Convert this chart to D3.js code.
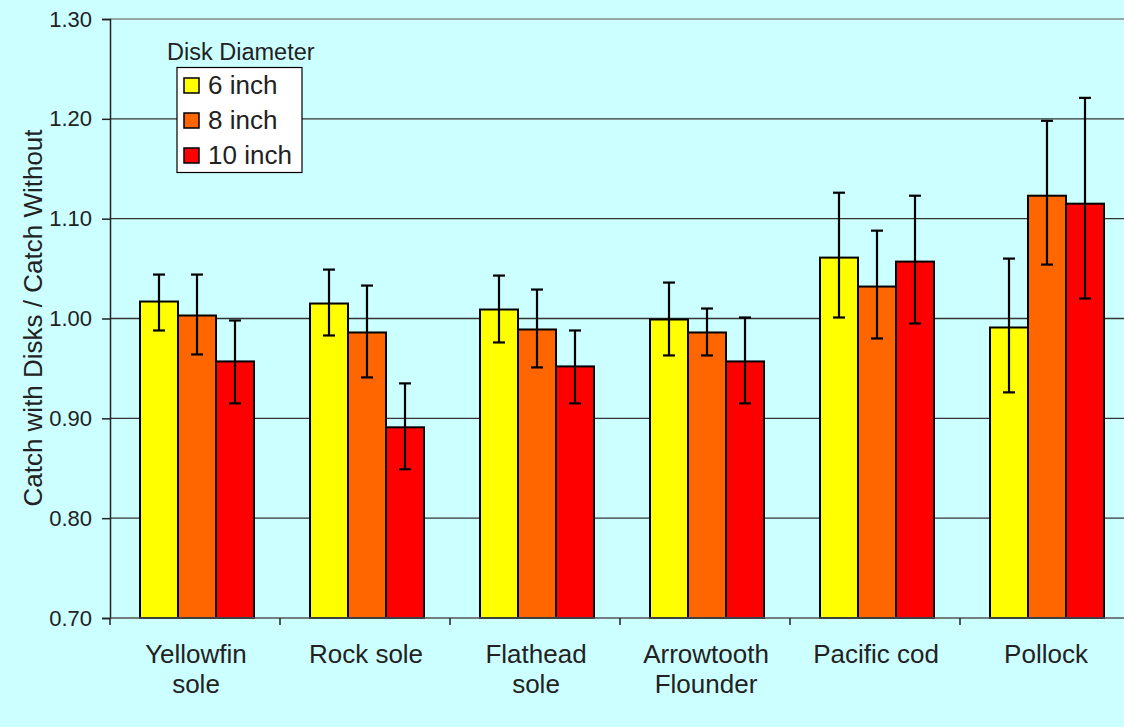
<!DOCTYPE html>
<html><head><meta charset="utf-8">
<script src="https://cdn.jsdelivr.net/npm/d3@7"></script>
<style>body{margin:0;background:#ccffff;}svg{display:block;font-family:"Liberation Sans",Arial,sans-serif;}</style>
</head><body>
<svg id="c" width="1124" height="727"></svg>
<script>
const categories = [["Yellowfin","sole"],["Rock sole"],["Flathead","sole"],["Arrowtooth","Flounder"],["Pacific cod"],["Pollock"]];
const seriesNames = ["6 inch","8 inch","10 inch"];
const seriesColors = ["#ffff00","#ff6600","#ff0000"];
const yTicks = [0.70,0.80,0.90,1.00,1.10,1.20,1.30];
const values6  = [1.017,1.015,1.009,0.999,1.061,0.991];
const values8  = [1.003,0.986,0.989,0.986,1.032,1.123];
const values10 = [0.957,0.891,0.952,0.957,1.057,1.115];
const errHi6  = [1.044,1.049,1.043,1.036,1.126,1.060];
const errLo6  = [0.988,0.983,0.976,0.963,1.001,0.926];
const errHi8  = [1.044,1.033,1.029,1.010,1.088,1.198];
const errLo8  = [0.964,0.941,0.951,0.963,0.980,1.054];
const errHi10 = [0.998,0.935,0.988,1.001,1.123,1.221];
const errLo10 = [0.915,0.849,0.915,0.915,0.995,1.020];

const vals=[values6,values8,values10], his=[errHi6,errHi8,errHi10], los=[errLo6,errLo8,errLo10];
const svg=d3.select("#c");
const L=110, T=19, B=618, W=1020;
const x=d3.scaleBand().domain(d3.range(categories.length)).range([L,L+W]).padding(0);
const y=d3.scaleLinear().domain([0.70,1.30]).range([B,T]);
const inner=d3.scaleBand().domain(d3.range(3)).range([30,144]).padding(0);

// gridlines
svg.append("g").selectAll("line").data(yTicks.slice(1,-1)).join("line")
 .attr("x1",L).attr("x2",L+W).attr("y1",d=>y(d)).attr("y2",d=>y(d))
 .attr("stroke","#333").attr("stroke-width",1.3);
svg.append("line").attr("x1",L).attr("x2",L+W).attr("y1",y(1.30)).attr("y2",y(1.30)).attr("stroke","#888").attr("stroke-width",1.5);

// bars
for(let s=0;s<3;s++){
  svg.append("g").selectAll("rect").data(vals[s]).join("rect")
   .attr("x",(d,i)=>x(i)+inner(s)).attr("width",inner.bandwidth())
   .attr("y",d=>y(d)).attr("height",d=>B-y(d))
   .attr("fill",seriesColors[s]).attr("stroke","#000").attr("stroke-width",2);
}
// error bars
for(let s=0;s<3;s++){
  const g=svg.append("g").attr("stroke","#000").attr("stroke-width",2.2);
  vals[s].forEach((d,i)=>{
    const cx=x(i)+inner(s)+inner.bandwidth()/2;
    g.append("line").attr("x1",cx).attr("x2",cx).attr("y1",y(his[s][i])).attr("y2",y(los[s][i]));
    g.append("line").attr("x1",cx-6).attr("x2",cx+6).attr("y1",y(his[s][i])).attr("y2",y(his[s][i]));
    g.append("line").attr("x1",cx-6).attr("x2",cx+6).attr("y1",y(los[s][i])).attr("y2",y(los[s][i]));
  });
}

// y axis
const ya=svg.append("g").attr("transform",`translate(${L},0)`)
 .call(d3.axisLeft(y).tickValues(yTicks).tickFormat(d3.format(".2f")).tickSize(8).tickPadding(10));
ya.select(".domain").attr("stroke","#222").attr("stroke-width",1.5);
ya.selectAll(".tick line").attr("stroke","#222").attr("stroke-width",1.5);
ya.selectAll("text").attr("font-size",22).attr("fill","#222").attr("font-family","Liberation Sans, Arial, sans-serif");

// x axis line and ticks
svg.append("line").attr("x1",L).attr("x2",L+W).attr("y1",B).attr("y2",B).attr("stroke","#555").attr("stroke-width",1.5);
svg.append("g").selectAll("line").data(d3.range(categories.length+1)).join("line")
 .attr("x1",d=>L+d*x.bandwidth()).attr("x2",d=>L+d*x.bandwidth()).attr("y1",B).attr("y2",B+7)
 .attr("stroke","#222").attr("stroke-width",1.5);
const xl=svg.append("g").selectAll("text").data(categories).join("text")
 .attr("x",(d,i)=>x(i)+x.bandwidth()/2+1).attr("y",663).attr("text-anchor","middle")
 .attr("font-size",26).attr("fill","#222");
xl.each(function(d){
  const t=d3.select(this);
  d.forEach((line,k)=>t.append("tspan").attr("x",t.attr("x")).attr("dy",k?30:0).text(line));
});

// y title
svg.append("text").attr("transform","translate(42,318) rotate(-90)").attr("text-anchor","middle")
 .attr("font-size",26).attr("fill","#222").text("Catch with Disks / Catch Without");

// legend
svg.append("text").attr("x",167).attr("y",60).attr("font-size",23.5).attr("fill","#222").text("Disk Diameter");
svg.append("rect").attr("x",177).attr("y",67.5).attr("width",125).attr("height",105).attr("fill","#fff").attr("stroke","#000").attr("stroke-width",1.2);
seriesNames.forEach((n,i)=>{
  svg.append("rect").attr("x",184).attr("y",78+i*35).attr("width",15).attr("height",15)
   .attr("fill",seriesColors[i]).attr("stroke","#000").attr("stroke-width",1.5);
  svg.append("text").attr("x",208).attr("y",94+i*35).attr("font-size",26).attr("fill","#222").text(n);
});
</script>
</body></html>
